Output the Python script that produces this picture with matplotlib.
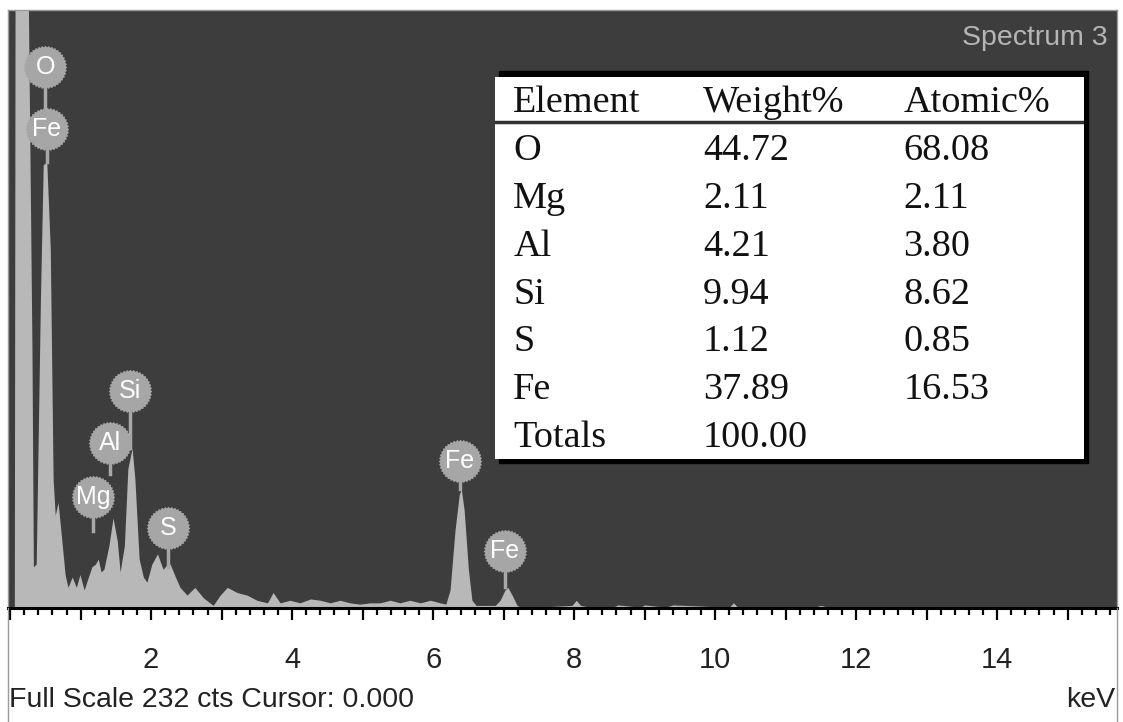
"""
EDS spectrum (Spectrum 3) with element quantification table
"""
import matplotlib
matplotlib.use('Agg')
import matplotlib.pyplot as plt
from matplotlib.lines import Line2D
from matplotlib.patches import Rectangle
from matplotlib.path import Path
from matplotlib.ticker import MultipleLocator, FuncFormatter
import numpy as np

plt.rcParams['font.family'] = ['Liberation Sans', 'DejaVu Sans']

W, H = 1123, 722

# spectrum: energy (keV) and counts, in pieces
low_kev = [0.00, 0.06, 0.07, 0.26, 0.31, 0.33, 0.37, 0.43, 0.47, 0.52, 0.57, 0.61,
           0.64, 0.68, 0.72, 0.78, 0.82, 0.88, 0.94, 0.99, 1.05, 1.11, 1.16, 1.21]
low_cts = [0, 0, 232, 232, 100, 16, 17, 120, 172, 173, 139, 50,
           36, 41, 30, 13, 8, 12, 8, 13, 7, 12, 16, 17]

mid_kev = [1.25, 1.29, 1.33, 1.40, 1.46, 1.52, 1.56, 1.62, 1.67, 1.73, 1.77, 1.83,
           1.89, 1.94, 2.01, 2.09, 2.13, 2.17, 2.23, 2.27, 2.33, 2.41, 2.51, 2.62,
           2.74, 2.88, 2.98, 3.08, 3.22, 3.36, 3.50, 3.65, 3.73, 3.83]
mid_cts = [19, 14, 15, 24, 35, 26, 14, 24, 54, 62, 50, 19,
           12, 10, 17, 21, 18, 15, 17, 17, 13, 8, 5, 8,
           4, 1, 5, 8, 6, 5, 3, 2, 6, 2]

bg_kev = [3.97, 4.11, 4.26, 4.40, 4.54, 4.68, 4.82, 4.96, 5.11, 5.25, 5.39, 5.53,
          5.67, 5.82, 5.96, 6.10, 6.18]
bg_cts = [3, 2, 3.5, 3, 2, 3, 2, 1.5, 2, 2, 3, 2,
          3, 2, 3, 2, 1.5]

fe_kev = [6.24, 6.31, 6.37, 6.40, 6.44, 6.50, 6.55, 6.61, 6.88, 6.95, 7.02, 7.06,
          7.12, 7.19, 7.23]
fe_cts = [7, 30, 44, 46, 38, 15, 3, 1, 1, 3, 7, 8,
          5, 1, 0.5]

tail_kev = [7.59, 7.97, 8.03, 8.09, 8.23, 8.55, 8.62, 8.94, 9.00, 9.30, 9.40,
            10.20, 10.26, 10.32, 11.40, 11.50, 11.60, 12.00, 15.70]
tail_cts = [0.5, 1, 3, 1, 0.3, 0.3, 1.2, 0.3, 1.2, 0.3, 1.2,
            0.3, 2, 0.3, 0.3, 1, 0.3, 0, 0]

energy = low_kev + mid_kev + bg_kev + fe_kev + tail_kev
counts = low_cts + mid_cts + bg_cts + fe_cts + tail_cts

# peak labels: element, energy, label centre and stem end (counts)
peak_names = ['O', 'Fe', 'Mg', 'Al', 'Si', 'S', 'Fe', 'Fe']
peak_kev = [0.50, 0.52, 1.18, 1.42, 1.70, 2.24, 6.38, 7.02]
label_y = [210, 186, 43, 64, 84, 31, 57, 22]
stem_end = [187, 173, 30, 52, 62, 16, 46, 8]

# quantification table
elements = ['O', 'Mg', 'Al', 'Si', 'S', 'Fe']
weight_pct = [44.72, 2.11, 4.21, 9.94, 1.12, 37.89]
atomic_pct = [68.08, 2.11, 3.80, 8.62, 0.85, 16.53]
total_weight = 100.00


def fx(px):
    return px / W


def fy(py):
    return 1 - py / H


fig = plt.figure(figsize=(W / 100, H / 100), dpi=100)
fig.patch.set_facecolor('white')

ax = fig.add_axes([fx(8), fy(608), fx(1117) - fx(8), fy(10) - fy(608)])
ax.set_facecolor('#3d3d3d')
ax.fill_between(energy, counts, color='#b8b8b8', lw=0)
ax.set_xlim(-0.03, 15.7)
ax.set_ylim(0, 232)
ax.set_yticks([])

ax.xaxis.set_major_locator(MultipleLocator(1))
ax.xaxis.set_minor_locator(MultipleLocator(0.2))
ax.xaxis.set_major_formatter(FuncFormatter(
    lambda v, p: f'{v:.0f}' if (v > 0.5 and round(v) % 2 == 0) else ''))
ax.tick_params(axis='x', which='major', length=8.5, width=1.6, color='black',
               labelsize=21, pad=19, labelcolor='#222222')
ax.tick_params(axis='x', which='minor', length=5, width=1.6, color='black')
for s in ['top', 'left', 'right']:
    ax.spines[s].set_color('#9a9a9a')
    ax.spines[s].set_linewidth(1)
ax.spines['bottom'].set_color('black')
ax.spines['bottom'].set_linewidth(2.2)

# little jagged disc used for the peak labels
ang = np.linspace(0, 2 * np.pi, 81)
rad = np.where(np.arange(81) % 2 == 0, 1.0, 0.93)
gear = Path(np.column_stack([rad * np.cos(ang), rad * np.sin(ang)]))

for name, e, yc, ye in zip(peak_names, peak_kev, label_y, stem_end):
    ax.plot([e, e], [ye, yc], color='#a8a8a8', lw=2.5, zorder=4)
    ax.scatter([e], [yc], s=980, marker=gear, color='#a6a6a6', lw=0, zorder=5)
    ax.text(e, yc, name, color='white', ha='center', va='center',
            fontsize=18, zorder=6)

# table with a black shadow on top, right and bottom
fig.add_artist(Rectangle((fx(499), fy(463)), fx(1088) - fx(499), fy(71) - fy(463),
                         transform=fig.transFigure, color='black', zorder=1))
tab = fig.add_axes([fx(495), fy(459), fx(1084) - fx(495), fy(77) - fy(459)])
tab.set_zorder(2)
tab.set_xlim(0, 1)
tab.set_ylim(7.49, -0.50)
tab.axis('off')
tab.add_patch(Rectangle((0, -0.5), 1, 8, color='white', zorder=0))
tab.axhline(0.44, color='#333333', lw=2.5)

col_x = [0.031, 0.353, 0.693]
serif = ['Liberation Serif', 'DejaVu Serif']
header = ['Element', 'Weight%', 'Atomic%']
for cx, h in zip(col_x, header):
    tab.text(cx, 0.24, h, family=serif, fontsize=27.5, color='#111111', va='baseline')

rows = [(el, f'{w:.2f}', f'{a:.2f}') for el, w, a in zip(elements, weight_pct, atomic_pct)]
rows.append(('Totals', f'{total_weight:.2f}', ''))
for i, row in enumerate(rows, start=1):
    for cx, val in zip(col_x, row):
        tab.text(cx, i + 0.24, val, family=serif, fontsize=27.5, color='#111111',
                 va='baseline')

# texts around the plot
fig.text(fx(1108), fy(38), 'Spectrum 3', ha='right', va='center', fontsize=20.5,
         color='#b5b5b5')
fig.text(fx(9), fy(700), 'Full Scale 232 cts Cursor: 0.000', ha='left', va='center',
         fontsize=20.5, color='#222222')
fig.text(fx(1115), fy(700), 'keV', ha='right', va='center', fontsize=20.5, color='#222222')

# frame lines running down past the axis
fig.add_artist(Line2D([fx(8), fx(8)], [0, fy(608)], color='#9a9a9a', lw=1))
fig.add_artist(Line2D([fx(1117), fx(1117)], [0, fy(608)], color='#9a9a9a', lw=1))

fig.savefig('out.png', dpi=100)
plt.close(fig)
